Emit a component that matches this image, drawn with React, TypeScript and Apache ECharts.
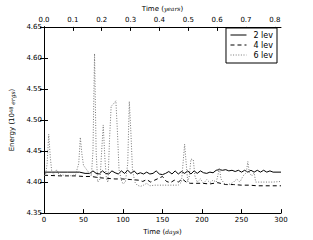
import React, { useEffect, useRef } from "react";
import * as echarts from "echarts";

const dayTicks = [0, 50, 100, 150, 200, 250, 300];
const yearTicks = [0.0, 0.1, 0.2, 0.3, 0.4, 0.5, 0.6, 0.7, 0.8];
const energyTicks = [4.35, 4.4, 4.45, 4.5, 4.55, 4.6, 4.65];
const seriesNames = ["2 lev", "4 lev", "6 lev"];

const lev2: [number, number][] = [
  [0, 4.416], [10, 4.416], [20, 4.416], [30, 4.416], [45, 4.416], [52, 4.414], [58, 4.414],
  [62, 4.418], [66, 4.414], [70, 4.413], [74, 4.418], [78, 4.414], [82, 4.413], [86, 4.418],
  [90, 4.415], [94, 4.413], [98, 4.418], [102, 4.414], [106, 4.419], [110, 4.414], [114, 4.418],
  [118, 4.413], [122, 4.415], [126, 4.413], [130, 4.416], [134, 4.413], [138, 4.414], [142, 4.418],
  [146, 4.413], [150, 4.412], [154, 4.414], [158, 4.417], [162, 4.413], [166, 4.418], [170, 4.413],
  [174, 4.417], [178, 4.414], [182, 4.418], [186, 4.413], [190, 4.418], [194, 4.414], [198, 4.418],
  [202, 4.415], [206, 4.414], [210, 4.416], [214, 4.415], [218, 4.419], [222, 4.42], [226, 4.419],
  [230, 4.42], [234, 4.418], [238, 4.419], [242, 4.417], [246, 4.419], [250, 4.416], [254, 4.419],
  [258, 4.416], [262, 4.419], [266, 4.416], [270, 4.419], [274, 4.416], [278, 4.419], [282, 4.416],
  [286, 4.418], [290, 4.416], [300, 4.416],
];

const lev4: [number, number][] = [
  [0, 4.411], [20, 4.41], [40, 4.41], [50, 4.409], [60, 4.409], [70, 4.407], [80, 4.406],
  [90, 4.405], [100, 4.405], [110, 4.404], [120, 4.403], [125, 4.401], [130, 4.404], [135, 4.4],
  [140, 4.403], [145, 4.406], [150, 4.409], [155, 4.401], [160, 4.399], [165, 4.403], [170, 4.4],
  [175, 4.405], [180, 4.4], [185, 4.398], [190, 4.398], [200, 4.398], [210, 4.397], [220, 4.399],
  [230, 4.396], [240, 4.396], [250, 4.395], [260, 4.395], [270, 4.394], [285, 4.394], [300, 4.394],
];

const lev6: [number, number][] = [
  [0, 4.41], [2, 4.412], [4, 4.43], [6, 4.477], [8, 4.44], [10, 4.415], [13, 4.412], [16, 4.42],
  [19, 4.412], [25, 4.411], [30, 4.411], [35, 4.41], [40, 4.412], [44, 4.43], [46, 4.472],
  [48, 4.445], [50, 4.427], [54, 4.42], [57, 4.415], [60, 4.41], [62, 4.45], [64, 4.607],
  [66, 4.45], [68, 4.4], [71, 4.405], [73, 4.45], [75, 4.492], [77, 4.44], [79, 4.405], [81, 4.4],
  [83, 4.47], [85, 4.522], [88, 4.526], [91, 4.531], [93, 4.48], [95, 4.42], [98, 4.403],
  [100, 4.397], [103, 4.4], [106, 4.43], [108, 4.53], [110, 4.48], [112, 4.42], [115, 4.4],
  [118, 4.395], [122, 4.393], [126, 4.395], [130, 4.398], [134, 4.394], [140, 4.395], [150, 4.395],
  [160, 4.395], [170, 4.395], [174, 4.4], [176, 4.43], [178, 4.461], [180, 4.43], [182, 4.4],
  [184, 4.41], [186, 4.437], [189, 4.436], [191, 4.41], [194, 4.4], [198, 4.405], [202, 4.398],
  [206, 4.404], [210, 4.399], [214, 4.403], [218, 4.4], [220, 4.41], [222, 4.423], [224, 4.405],
  [228, 4.398], [232, 4.396], [236, 4.397], [240, 4.4], [244, 4.405], [248, 4.4], [252, 4.41],
  [256, 4.415], [258, 4.433], [260, 4.415], [263, 4.41], [266, 4.415], [268, 4.4], [272, 4.4],
  [280, 4.4], [290, 4.4], [300, 4.401],
];

const DAYS_PER_YEAR = 365.25;
const FONT = "DejaVu Sans";

export default function App() {
  const ref = useRef<HTMLDivElement>(null);
  useEffect(() => {
    if (!ref.current) return;
    const chart = echarts.init(ref.current, null, { renderer: "svg" });
    const axisLine = { show: true, lineStyle: { color: "#000", width: 1 } };
    const tickStyle = { inside: true, length: 4, lineStyle: { color: "#000", width: 1 } };
    const labelStyle = { color: "#000", fontSize: 7, fontFamily: FONT };
    const rich = {
      a: { fontSize: 7, color: "#000", fontFamily: FONT },
      i: { fontSize: 6, color: "#000", fontFamily: "DejaVu Serif", fontStyle: "italic" },
    };
    chart.setOption({
      animation: false,
      backgroundColor: "#fff",
      textStyle: { fontFamily: FONT },
      grid: { left: 33, right: 32, top: 24, bottom: 24, containLabel: false },
      legend: {
        data: seriesNames,
        orient: "vertical",
        right: 36,
        top: 28,
        align: "left",
        borderColor: "#000",
        borderWidth: 1,
        borderRadius: 0,
        backgroundColor: "#fff",
        padding: [3, 4, 4, 4],
        itemGap: 2,
        itemWidth: 16,
        itemHeight: 10,
        itemStyle: { opacity: 0 },
        lineStyle: { width: 1 },
        textStyle: { fontSize: 8, color: "#000", fontFamily: FONT, padding: [0, 0, 0, 2] },
      },
      xAxis: [
        {
          type: "value",
          position: "bottom",
          min: dayTicks[0],
          max: dayTicks[dayTicks.length - 1],
          interval: 50,
          axisLine,
          axisTick: tickStyle,
          splitLine: { show: false },
          axisLabel: { ...labelStyle, margin: 3 },
          name: "{a|Time (}{i|days}{a|)}",
          nameLocation: "middle",
          nameGap: 13,
          nameTextStyle: { rich },
        },
        {
          type: "value",
          position: "top",
          min: 0,
          max: dayTicks[dayTicks.length - 1] / DAYS_PER_YEAR,
          interval: 0.1,
          axisLine,
          axisTick: tickStyle,
          splitLine: { show: false },
          axisLabel: {
            ...labelStyle,
            margin: 3,
            showMaxLabel: false,
            formatter: (v: number) => {
              const hit = yearTicks.find((t) => Math.abs(t - v) < 1e-6);
              return hit === undefined ? "" : hit.toFixed(1);
            },
          },
          name: "{a|Time (}{i|years}{a|)}",
          nameLocation: "middle",
          nameGap: 14,
          nameTextStyle: { rich },
        },
      ],
      yAxis: [
        {
          type: "value",
          position: "left",
          min: energyTicks[0],
          max: energyTicks[energyTicks.length - 1],
          interval: 0.05,
          axisLine,
          axisTick: tickStyle,
          splitLine: { show: false },
          axisLabel: { ...labelStyle, margin: 2, formatter: (v: number) => v.toFixed(2) },
          name: "{a|Energy (10}{s|48}{i| ergs}{a|)}",
          nameLocation: "middle",
          nameRotate: 90,
          nameGap: 22,
          nameTextStyle: {
            rich: {
              ...rich,
              s: { fontSize: 5, color: "#000", fontFamily: FONT, verticalAlign: "top", padding: [0, 0, 3, 0] },
            },
          },
        },
        {
          type: "value",
          position: "right",
          min: energyTicks[0],
          max: energyTicks[energyTicks.length - 1],
          interval: 0.05,
          axisLine,
          axisTick: tickStyle,
          splitLine: { show: false },
          axisLabel: { show: false },
        },
      ],
      series: [
        {
          name: seriesNames[0],
          type: "line",
          data: lev2,
          xAxisIndex: 0,
          yAxisIndex: 0,
          symbol: "none",
          lineStyle: { color: "#000", width: 1, type: "solid" },
          itemStyle: { color: "#000" },
        },
        {
          name: seriesNames[1],
          type: "line",
          data: lev4,
          xAxisIndex: 0,
          yAxisIndex: 0,
          symbol: "none",
          lineStyle: { color: "#000", width: 1, type: [4, 3] },
          itemStyle: { color: "#000" },
        },
        {
          name: seriesNames[2],
          type: "line",
          data: lev6,
          xAxisIndex: 0,
          yAxisIndex: 0,
          symbol: "none",
          lineStyle: { color: "#777", width: 1, type: [1, 1.6] },
          itemStyle: { color: "#777" },
        },
      ],
    });
    return () => chart.dispose();
  }, []);
  return (
    <div
      ref={ref}
      style={{ position: "fixed", left: 0, top: 0, width: 313, height: 240, background: "#fff" }}
    />
  );
}
